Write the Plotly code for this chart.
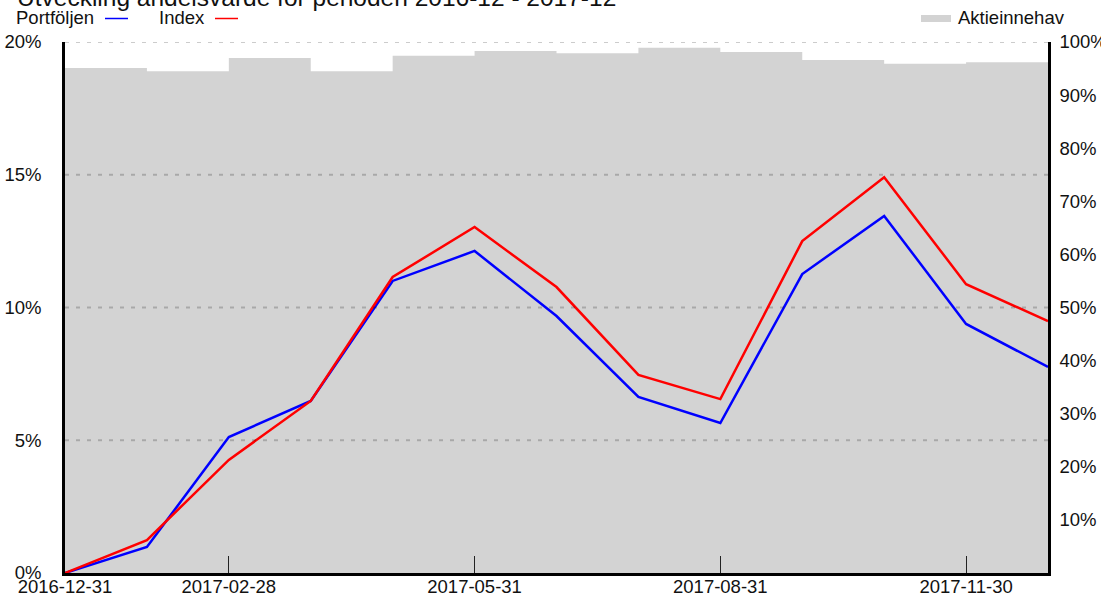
import plotly.graph_objects as go

# ---- data ----
dates = ["2016-12-31", "2017-01-31", "2017-02-28", "2017-03-31", "2017-04-30",
         "2017-05-31", "2017-06-30", "2017-07-31", "2017-08-31", "2017-09-30",
         "2017-10-31", "2017-11-30", "2017-12-31"]
portfoljen = [0.0, 0.98, 5.12, 6.48, 11.0, 12.13, 9.68, 6.63, 5.65, 11.26, 13.45, 9.38, 7.76]
index_vals = [0.0, 1.24, 4.26, 6.48, 11.15, 13.03, 10.77, 7.46, 6.55, 12.5, 14.91, 10.88, 9.49]
# share of equity holdings per month (between month ends)
aktieinnehav = [95.1, 94.5, 97.0, 94.5, 97.4, 98.3, 97.9, 98.9, 98.1, 96.6, 95.9, 96.2]
tick_dates = ["2016-12-31", "2017-02-28", "2017-05-31", "2017-08-31", "2017-11-30"]
left_ticks = [0, 5, 10, 15, 20]
right_ticks = [10, 20, 30, 40, 50, 60, 70, 80, 90, 100]
grid_vals = [5, 10, 15, 20]
title = "Utveckling andelsvärde för perioden 2016-12 - 2017-12"

W, H = 1101, 597
L, R, T, B = 65, 1048, 42, 573
FONT = "Liberation Sans, Arial, sans-serif"
FS = 18.5


def px_x(p):
    return (p - L) / (R - L)


def px_y(p):
    return (B - p) / (B - T)


xi = list(range(len(dates)))
# step area: each month's holding spans from one month end to the next
step_x = list(range(len(aktieinnehav) + 1))
step_y = aktieinnehav + [aktieinnehav[-1]]

fig = go.Figure()
fig.add_trace(go.Scatter(x=step_x, y=step_y, mode="lines", line=dict(width=0, shape="hv", color="#d3d3d3"),
                         fill="tozeroy", fillcolor="#d3d3d3",
                         xaxis="x", yaxis="y", name="Aktieinnehav", showlegend=False))
fig.add_trace(go.Scatter(x=xi, y=portfoljen, mode="lines", line=dict(color="#0000ff", width=2.5),
                         xaxis="x", yaxis="y2", name="Portföljen", showlegend=False))
fig.add_trace(go.Scatter(x=xi, y=index_vals, mode="lines", line=dict(color="#ff0000", width=2.5),
                         xaxis="x", yaxis="y2", name="Index", showlegend=False))

shapes = []
for g in grid_vals:
    shapes.append(dict(type="line", xref="paper", yref="y2", x0=0, x1=1, y0=g, y1=g,
                       line=dict(color="rgba(0,0,0,0.2)", width=2, dash="4px,7px"), layer="above"))
# legend swatches
shapes.append(dict(type="line", xref="paper", yref="paper", x0=px_x(105), x1=px_x(128),
                   y0=px_y(18.5), y1=px_y(18.5), line=dict(color="#0000ff", width=1.5)))
shapes.append(dict(type="line", xref="paper", yref="paper", x0=px_x(215), x1=px_x(238),
                   y0=px_y(18.5), y1=px_y(18.5), line=dict(color="#ff0000", width=1.5)))
shapes.append(dict(type="rect", xref="paper", yref="paper", x0=px_x(921), x1=px_x(951),
                   y0=px_y(22), y1=px_y(15), fillcolor="#d3d3d3", line=dict(width=0)))

annotations = [
    dict(text=title, xref="paper", yref="paper", x=px_x(15), y=px_y(-2.5), xanchor="left", yanchor="middle",
         showarrow=False, font=dict(size=24.5, color="#111", family=FONT)),
    dict(text="Portföljen", xref="paper", yref="paper", x=px_x(14), y=px_y(17.5), xanchor="left",
         yanchor="middle", showarrow=False, font=dict(size=FS, color="#111", family=FONT)),
    dict(text="Index", xref="paper", yref="paper", x=px_x(157), y=px_y(17.5), xanchor="left",
         yanchor="middle", showarrow=False, font=dict(size=FS, color="#111", family=FONT)),
    dict(text="Aktieinnehav", xref="paper", yref="paper", x=px_x(956), y=px_y(17.5), xanchor="left",
         yanchor="middle", showarrow=False, font=dict(size=FS, color="#111", family=FONT)),
]

fig.update_layout(
    template="none",
    width=W, height=H, autosize=False,
    margin=dict(l=L, r=W - R, t=T, b=H - B, pad=0, autoexpand=False),
    paper_bgcolor="white", plot_bgcolor="white",
    font=dict(family=FONT, size=FS, color="#111"),
    showlegend=False,
    shapes=shapes, annotations=annotations,
    xaxis=dict(range=[0, len(dates) - 1], tickmode="array", tickvals=[dates.index(d) for d in tick_dates],
               ticktext=tick_dates, ticks="inside", ticklen=17, tickwidth=1.2, tickcolor="#222",
               showline=True, linecolor="black", linewidth=2.5, showgrid=False, zeroline=False,
               automargin=False, ticklabelstandoff=-5),
    yaxis=dict(range=[0, 100], side="right", tickmode="array", tickvals=right_ticks,
               ticktext=[f"{v}%" for v in right_ticks], ticks="",
               showline=True, linecolor="black", linewidth=2.5, showgrid=False, zeroline=False,
               ticklabelstandoff=5, automargin=False),
    yaxis2=dict(range=[0, 20], side="left", overlaying="y", tickmode="array", tickvals=left_ticks,
                ticktext=[f"{v}%" for v in left_ticks], ticks="",
                showline=True, linecolor="black", linewidth=2.5, showgrid=False, zeroline=False,
                ticklabelstandoff=17, automargin=False),
)

fig.write_html("out.html", config={"displayModeBar": False},
               post_script="document.body.style.margin='0';document.body.style.overflow='hidden';")
